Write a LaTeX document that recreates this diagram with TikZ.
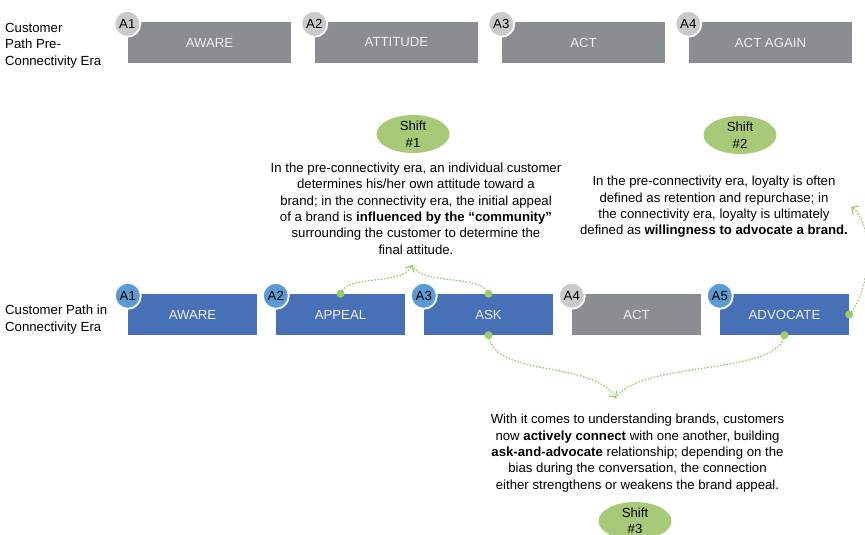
\documentclass[tikz,border=0pt]{standalone}
\usepackage{fontspec}
\setmainfont{Liberation Sans}
\usetikzlibrary{arrows.meta,shapes.geometric}
\definecolor{boxblue}{HTML}{4770B6}
\definecolor{circblue}{HTML}{5B9BD5}
\definecolor{boxgray}{HTML}{8A8D92}
\definecolor{circgray}{HTML}{C9CACE}
\definecolor{shiftgreen}{HTML}{A8CA78}
\definecolor{linkgreen}{HTML}{9CCB6A}
\definecolor{labelwhite}{HTML}{EEEEEE}
\begin{document}
\begin{tikzpicture}[x=1pt,y=-1pt,
  font=\fontsize{13.2}{16.4}\selectfont,
  oldbox/.style={fill=boxgray, text=labelwhite, minimum width=163pt, minimum height=41pt, inner sep=0pt},
  newbox/.style={fill=boxblue, text=labelwhite, minimum width=129pt, minimum height=41pt, inner sep=0pt},
  graybox/.style={newbox, fill=boxgray},
  badge/.style={circle, draw=white, line width=1.8pt, fill=circblue, minimum size=26pt, inner sep=0pt},
  graybadge/.style={badge, fill=circgray},
  shiftoval/.style={ellipse, fill=shiftgreen, minimum width=73pt, minimum height=38pt, inner sep=0pt, align=center, font=\fontsize{13.2}{16.5}\selectfont},
  para/.style={align=center, inner sep=0pt},
  sidelabel/.style={align=left, anchor=west, inner sep=0pt},
  link/.style={draw=linkgreen, line width=1.3pt, dash pattern=on 1.6pt off 1.6pt},
  tipend/.style={-{Straight Barb[length=5pt,width=10pt,line width=1.2pt]}},
  dot/.style={circle, fill=linkgreen, minimum size=8pt, inner sep=0pt}
]
\useasboundingbox (0,0) rectangle (865,535);
\clip (0,0) rectangle (865,535);

% labels
\node[sidelabel] (lab1) at (5,45.5) {Customer\\Path Pre-\\Connectivity Era};
\node[sidelabel] (lab2) at (5,319.5) {Customer Path in\\Connectivity Era};

% top row
\node[oldbox] (o1) at (209.5,42.5) {AWARE};
\node[oldbox] (o2) at (396.5,42.5) {ATTITUDE};
\node[oldbox] (o3) at (583.5,42.5) {ACT};
\node[oldbox] (o4) at (770.5,42.5) {ACT AGAIN};
\foreach \i in {1,...,4}{
  \node[graybadge] (ob\i) at ([xshift=-0.5pt,yshift=-2pt]o\i.north west) {A\i};
}

% bottom row
\node[newbox] (n1) at (192.5,314.5) {AWARE};
\node[newbox] (n2) at (340.5,314.5) {APPEAL};
\node[newbox] (n3) at (488.5,314.5) {ASK};
\node[graybox] (n4) at (636.5,314.5) {ACT};
\node[newbox] (n5) at (784.5,314.5) {ADVOCATE};
\node[badge] (nb1) at ([yshift=-2pt]n1.north west) {A1};
\node[badge] (nb2) at ([yshift=-2pt]n2.north west) {A2};
\node[badge] (nb3) at ([yshift=-2pt]n3.north west) {A3};
\node[graybadge] (nb4) at ([yshift=-2pt]n4.north west) {A4};
\node[badge] (nb5) at ([yshift=-2pt]n5.north west) {A5};

% shifts
\node[shiftoval] (s1) at (413,134) {Shift\\\#1};
\node[shiftoval] (s2) at (740,135) {Shift\\\#2};
\node[shiftoval] (s3) at (635,521) {Shift\\\#3};

% paragraphs
\node[para] (p1) at (416,208.5) {In the pre-connectivity era, an individual customer\\
determines his/her own attitude toward a\\
brand; in the connectivity era, the initial appeal\\
of a brand is \textbf{influenced by the “community”}\\
surrounding the customer to determine the\\
final attitude.};
\node[para] (p2) at (714,207) {In the pre-connectivity era, loyalty is often\\
defined as retention and repurchase; in\\
the connectivity era, loyalty is ultimately\\
defined as \textbf{willingness to advocate a brand.}};
\node[para] (p3) at (637.5,453) {With it comes to understanding brands, customers\\
now \textbf{actively connect} with one another, building\\
\textbf{ask-and-advocate} relationship; depending on the\\
bias during the conversation, the connection\\
either strengthens or weakens the brand appeal.};

% connector end points
\coordinate (t1) at (412,265);
\coordinate (t2) at (851,207);
\coordinate (t3) at (616,398);

% connectors
\draw[link, tipend] (n2.north) .. controls (346,274) and (402,286) .. (t1);
\draw[link] (n3.north) .. controls (482,274) and (422,286) .. (t1);
\draw[link, tipend] (n5.east) .. controls (872,290) and (874,222) .. (t2);
\draw[link, tipend] (n3.south) .. controls (494,378) and (592,360) .. (t3);
\draw[link] (n5.south) .. controls (778,376) and (640,360) .. (t3);

\node[dot] (d1) at (n2.north) {};
\node[dot] (d2) at (n3.north) {};
\node[dot] (d3) at (n3.south) {};
\node[dot] (d4) at (n5.south) {};
\node[dot] (d5) at (n5.east) {};
\end{tikzpicture}
\end{document}
